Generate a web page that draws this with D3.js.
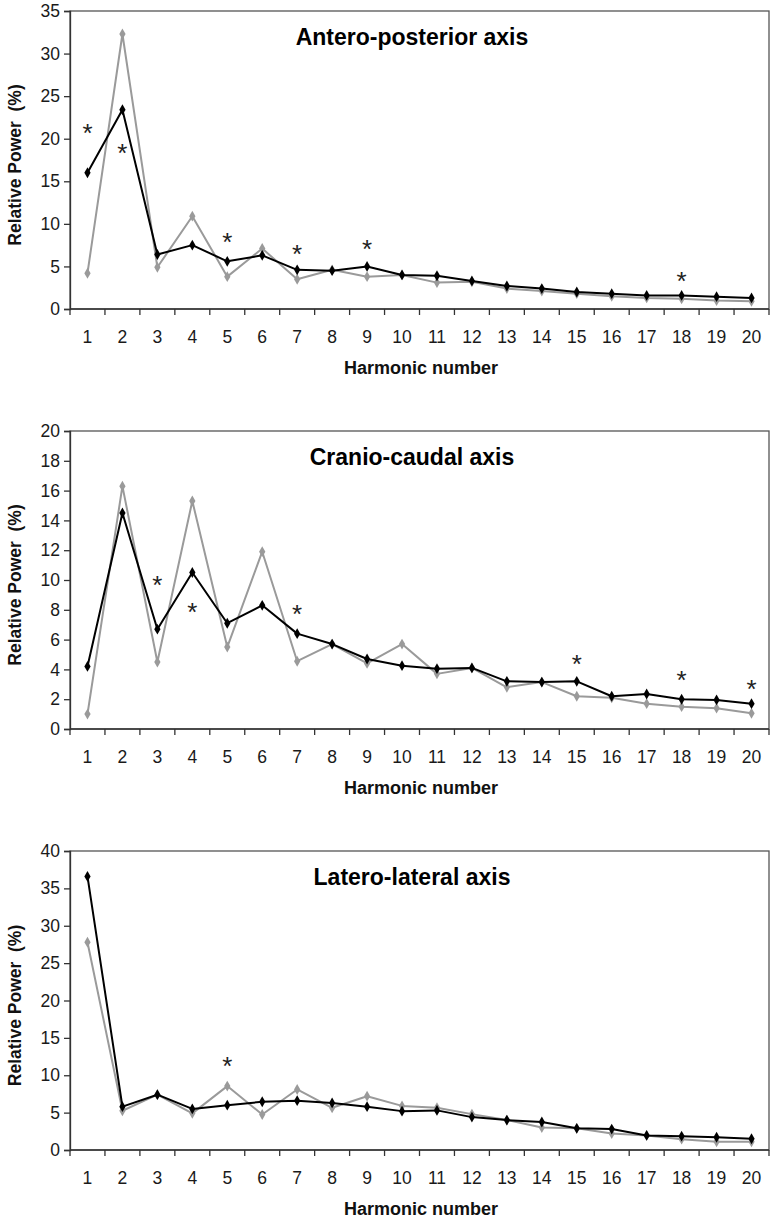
<!DOCTYPE html>
<html>
<head>
<meta charset="utf-8">
<script src="https://cdnjs.cloudflare.com/ajax/libs/d3/7.8.5/d3.min.js"></script>
<style>
  body { margin: 0; background: #fff; }
  svg { display: block; font-family: Arial, "Liberation Sans", sans-serif; }
</style>
</head>
<body>
<svg id="chart" width="774" height="1219"></svg>
<script>
const harmonics = d3.range(1, 21);

// Antero-posterior axis
const apBlack = [16.0, 23.4, 6.4, 7.5, 5.6, 6.3, 4.6, 4.5, 5.0, 4.0, 3.9, 3.3, 2.7, 2.4, 2.0, 1.8, 1.6, 1.6, 1.45, 1.3];
const apGray  = [4.2, 32.3, 4.9, 10.9, 3.8, 7.1, 3.5, 4.6, 3.8, 4.0, 3.1, 3.2, 2.4, 2.1, 1.8, 1.5, 1.3, 1.2, 1.0, 0.9];
const apStarHarmonic = [1, 2, 5, 7, 9, 18];
const apStarLevel    = [20.9, 18.6, 8.1, 6.7, 7.3, 3.5];

// Cranio-caudal axis
const ccBlack = [4.2, 14.5, 6.7, 10.5, 7.1, 8.3, 6.4, 5.7, 4.7, 4.25, 4.05, 4.1, 3.2, 3.15, 3.2, 2.2, 2.35, 2.0, 1.95, 1.7];
const ccGray  = [1.0, 16.3, 4.5, 15.3, 5.5, 11.9, 4.55, 5.7, 4.4, 5.7, 3.7, 4.1, 2.8, 3.15, 2.2, 2.1, 1.7, 1.5, 1.4, 1.05];
const ccStarHarmonic = [3, 4, 7, 15, 18, 20];
const ccStarLevel    = [9.8, 8.0, 7.85, 4.5, 3.4, 2.8];

// Latero-lateral axis
const llBlack = [36.6, 5.8, 7.4, 5.5, 6.0, 6.45, 6.6, 6.3, 5.8, 5.2, 5.3, 4.4, 4.0, 3.75, 2.9, 2.8, 1.95, 1.85, 1.7, 1.5];
const llGray  = [27.8, 5.25, 7.4, 4.9, 8.55, 4.75, 8.1, 5.65, 7.2, 5.9, 5.65, 4.8, 4.0, 3.0, 2.9, 2.2, 1.95, 1.45, 1.1, 1.1];
const llStarHarmonic = [5];
const llStarLevel    = [11.45];

const titles = ["Antero-posterior axis", "Cranio-caudal axis", "Latero-lateral axis"];
const yMaxes = [35, 20, 40];
const ySteps = [5, 2, 5];

const panels = [
  { title: titles[0], ymax: yMaxes[0], step: ySteps[0], black: apBlack, gray: apGray, starH: apStarHarmonic, starV: apStarLevel, top: 11, bottom: 309 },
  { title: titles[1], ymax: yMaxes[1], step: ySteps[1], black: ccBlack, gray: ccGray, starH: ccStarHarmonic, starV: ccStarLevel, top: 431, bottom: 729 },
  { title: titles[2], ymax: yMaxes[2], step: ySteps[2], black: llBlack, gray: llGray, starH: llStarHarmonic, starV: llStarLevel, top: 851, bottom: 1150 }
];

const svg = d3.select("#chart");
const left = 70, right = 769;
const axisColor = "#333";

panels.forEach(p => {
  const g = svg.append("g");
  const x = d3.scaleBand().domain(harmonics).range([left, right]).padding(0);
  const y = d3.scaleLinear().domain([0, p.ymax]).range([p.bottom, p.top]);

  // frame
  g.append("rect")
    .attr("x", left).attr("y", p.top)
    .attr("width", right - left).attr("height", p.bottom - p.top)
    .attr("fill", "none").attr("stroke", "#555").attr("stroke-width", 1.3);

  // y axis
  const yAxis = d3.axisLeft(y).tickValues(d3.range(0, p.ymax + 0.001, p.step)).tickSize(6).tickPadding(4).tickFormat(d3.format("d"));
  const ya = g.append("g").attr("transform", `translate(${left},0)`).call(yAxis);
  ya.select(".domain").attr("stroke", axisColor).attr("stroke-width", 1.3);
  ya.selectAll(".tick line").attr("stroke", axisColor).attr("stroke-width", 1.3);
  ya.selectAll(".tick text").attr("font-size", 17.5).attr("fill", "#1a1a1a").attr("font-family", "Arial, 'Liberation Sans', sans-serif");

  // x axis: ticks at category boundaries
  const bounds = d3.range(0, 21).map(i => left + i * x.bandwidth());
  const xa = g.append("g");
  xa.append("line").attr("x1", left).attr("x2", right).attr("y1", p.bottom).attr("y2", p.bottom)
    .attr("stroke", axisColor).attr("stroke-width", 1.3);
  xa.selectAll("line.tk").data(bounds).join("line").attr("class", "tk")
    .attr("x1", d => d).attr("x2", d => d).attr("y1", p.bottom).attr("y2", p.bottom + 6)
    .attr("stroke", axisColor).attr("stroke-width", 1.3);
  xa.selectAll("text").data(harmonics).join("text")
    .attr("x", d => x(d) + x.bandwidth() / 2).attr("y", p.bottom + 34)
    .attr("text-anchor", "middle").attr("font-size", 17.5).attr("fill", "#1a1a1a")
    .text(d => d);

  // axis titles
  g.append("text").attr("x", 421).attr("y", p.bottom + 65)
    .attr("text-anchor", "middle").attr("font-size", 18).attr("font-weight", "bold").attr("fill", "#111")
    .text("Harmonic number");
  g.append("text")
    .attr("transform", `translate(21,${(p.top + p.bottom) / 2 + 5}) rotate(-90)`)
    .attr("text-anchor", "middle").attr("font-size", 17.5).attr("font-weight", "bold").attr("fill", "#111")
    .attr("xml:space", "preserve")
    .text("Relative Power  (%)");

  // chart title
  g.append("text").attr("x", 412).attr("y", p.top + 34)
    .attr("text-anchor", "middle").attr("font-size", 23).attr("font-weight", "bold").attr("fill", "#000")
    .text(p.title);

  const cx = d => x(d) + x.bandwidth() / 2;
  const diamond = d3.symbol().type(d3.symbolDiamond).size(34);

  const series = [
    { vals: p.gray, color: "#9a9a9a" },
    { vals: p.black, color: "#000" }
  ];
  series.forEach(s => {
    const pts = harmonics.map((h, i) => [h, s.vals[i]]);
    g.append("path").datum(pts)
      .attr("fill", "none").attr("stroke", s.color).attr("stroke-width", 2)
      .attr("stroke-linejoin", "round")
      .attr("d", d3.line().x(d => cx(d[0])).y(d => y(d[1])));
    g.selectAll(null).data(pts).join("path")
      .attr("d", diamond)
      .attr("transform", d => `translate(${cx(d[0])},${y(d[1])})`)
      .attr("fill", s.color);
  });

  // significance asterisks
  g.selectAll(null).data(p.starH.map((h, i) => [h, p.starV[i]])).join("text")
    .attr("x", d => cx(d[0])).attr("y", d => y(d[1]) + 11)
    .attr("text-anchor", "middle").attr("font-size", 26).attr("fill", "#222")
    .text("*");
});
</script>
</body>
</html>
